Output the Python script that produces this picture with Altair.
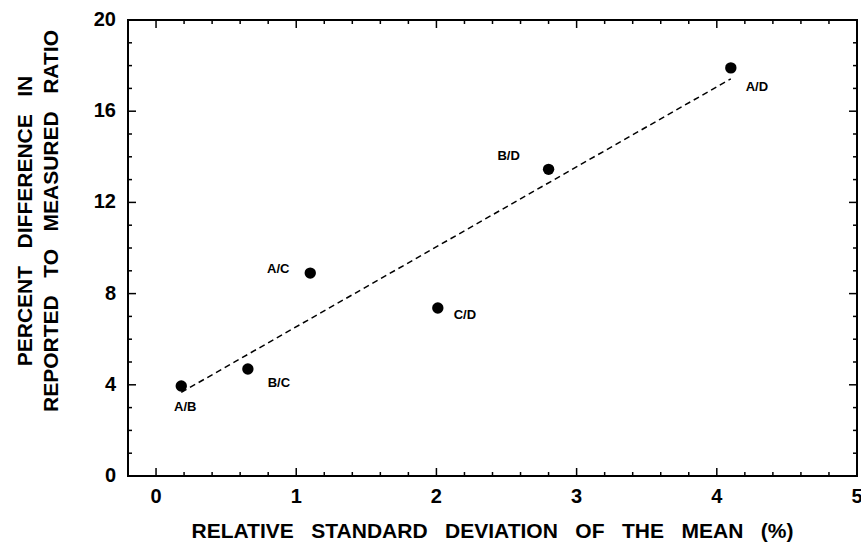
import altair as alt
import pandas as pd

# ---- data ----
pairs = ["A/B", "B/C", "A/C", "C/D", "B/D", "A/D"]
rsd_mean = [0.18, 0.655, 1.10, 2.01, 2.80, 4.10]
pct_diff = [3.95, 4.69, 8.90, 7.37, 13.45, 17.90]

x_major = [0, 1, 2, 3, 4, 5]
x_minor = [0.2, 0.4, 0.6, 0.8, 1.2, 1.4, 1.6, 1.8, 2.2, 2.4, 2.6, 2.8,
           3.2, 3.4, 3.6, 3.8, 4.2, 4.4, 4.6, 4.8]
y_major = [0, 4, 8, 12, 16, 20]
y_minor = [1, 2, 3, 5, 6, 7, 9, 10, 11, 13, 14, 15, 17, 18, 19]

X_DOMAIN = [-0.2, 5]
Y_DOMAIN = [0, 20]

# label offsets (style: pixels from the marker)
LABEL_OFFSETS = {
    "A/B": (4, 21),
    "B/C": (31, 14),
    "A/C": (-32, -4),
    "C/D": (27, 7),
    "B/D": (-40, -13),
    "A/D": (26, 19),
}

df = pd.DataFrame({"pair": pairs, "rsd": rsd_mean, "diff": pct_diff})

FONT = "Liberation Sans"
SP = " " + "\u00a0" * 2
x_title = SP.join(["RELATIVE", "STANDARD", "DEVIATION", "OF", "THE", "MEAN", "(%)"])
y_title_1 = SP.join(["PERCENT", "DIFFERENCE", "IN"])
y_title_2 = SP.join(["REPORTED", "TO", "MEASURED", "RATIO"])

xs = alt.Scale(domain=X_DOMAIN, nice=False, zero=False)
ys = alt.Scale(domain=Y_DOMAIN, nice=False, zero=False)

MAJ = 8
MIN = 4


def X(field):
    return alt.X(field, scale=xs, axis=None)


def Y(field):
    return alt.Y(field, scale=ys, axis=None)


base = alt.Chart(df)

points = base.mark_circle(size=130, color="black", opacity=1).encode(
    x=X("rsd:Q"), y=Y("diff:Q"))

line = base.transform_regression("rsd", "diff").mark_line(
    color="black", strokeDash=[6, 4], strokeWidth=1.5
).encode(x=X("rsd:Q"), y=Y("diff:Q"))


def x_ticks(values, edge, inward):
    d = pd.DataFrame({"v": values, "edge": [edge] * len(values)})
    return alt.Chart(d).mark_rule(
        color="black", strokeWidth=1.5, y2Offset=inward
    ).encode(x=X("v:Q"), y=Y("edge:Q"), y2="edge:Q")


def y_ticks(values, edge, inward):
    d = pd.DataFrame({"v": values, "edge": [edge] * len(values)})
    return alt.Chart(d).mark_rule(
        color="black", strokeWidth=1.5, x2Offset=inward
    ).encode(y=Y("v:Q"), x=X("edge:Q"), x2="edge:Q")


ticks = [
    x_ticks(x_major, Y_DOMAIN[0], -MAJ), x_ticks(x_minor, Y_DOMAIN[0], -MIN),
    x_ticks(x_major, Y_DOMAIN[1], MAJ), x_ticks(x_minor, Y_DOMAIN[1], MIN),
    y_ticks(y_major, X_DOMAIN[0], MAJ), y_ticks(y_minor, X_DOMAIN[0], MIN),
    y_ticks(y_major, X_DOMAIN[1], -MAJ), y_ticks(y_minor, X_DOMAIN[1], -MIN),
]

# tick labels, placed through the scales at the frame edges
xlab_df = pd.DataFrame({"v": x_major, "edge": [Y_DOMAIN[0]] * len(x_major)})
x_labels = alt.Chart(xlab_df).mark_text(
    font=FONT, fontSize=20, fontWeight="bold", color="black",
    align="center", baseline="top", dy=11
).encode(x=X("v:Q"), y=Y("edge:Q"), text=alt.Text("v:Q", format="d"))

ylab_df = pd.DataFrame({"v": y_major, "edge": [X_DOMAIN[0]] * len(y_major)})
y_labels = alt.Chart(ylab_df).mark_text(
    font=FONT, fontSize=20, fontWeight="bold", color="black",
    align="right", baseline="middle", dx=-12
).encode(y=Y("v:Q"), x=X("edge:Q"), text=alt.Text("v:Q", format="d"))

# axis titles
xt_df = pd.DataFrame({"t": [x_title], "xc": [sum(X_DOMAIN) / 2], "yb": [Y_DOMAIN[0]]})
x_title_mark = alt.Chart(xt_df).mark_text(
    font=FONT, fontSize=21, fontWeight="bold", color="black",
    align="center", baseline="top", yOffset=45
).encode(x=X("xc:Q"), y=Y("yb:Q"), text="t:N")

yt_df = pd.DataFrame({"t": [y_title_1, y_title_2],
                      "xl": [X_DOMAIN[0]] * 2,
                      "yc": [sum(Y_DOMAIN) / 2] * 2})
y_title_marks = [
    alt.Chart(yt_df).transform_filter(alt.datum.t == txt).mark_text(
        font=FONT, fontSize=21, fontWeight="bold", color="black",
        align="center", baseline="middle", angle=270,
        xOffset=xoff, yOffset=-27
    ).encode(x=X("xl:Q"), y=Y("yc:Q"), text="t:N")
    for txt, xoff in [(y_title_1, -102), (y_title_2, -76)]
]

texts = []
for name, (dx, dy) in LABEL_OFFSETS.items():
    texts.append(
        base.transform_filter(alt.datum.pair == name).mark_text(
            font=FONT, fontSize=13, fontWeight="bold", color="black",
            dx=dx, dy=dy, align="center", baseline="middle"
        ).encode(x=X("rsd:Q"), y=Y("diff:Q"), text="pair:N")
    )

chart = alt.layer(
    points, line, *ticks, x_labels, y_labels, x_title_mark, *y_title_marks, *texts
).properties(
    width=729, height=456,
    padding={"left": 128, "top": 20, "right": 4, "bottom": 67},
    autosize=alt.AutoSizeParams(type="none"),
    background="white",
).configure_view(
    stroke="black", strokeWidth=2
)

chart.save("out.html", embed_options={"renderer": "svg", "actions": False})
